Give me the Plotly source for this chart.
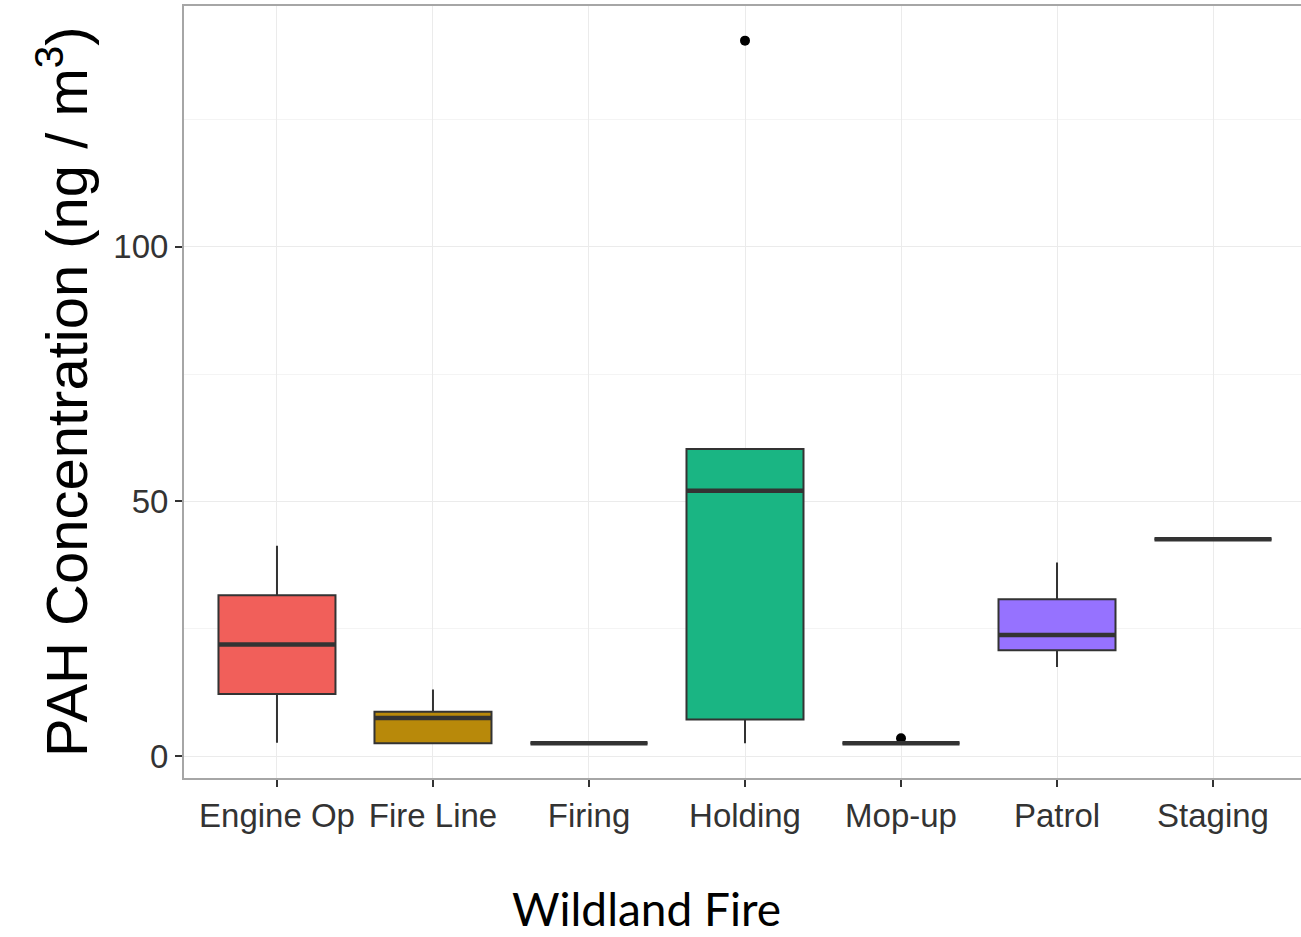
import plotly.graph_objects as go

# PAH concentrations by wildland-fire task (box summary statistics, ng/m^3)
categories = ["Engine Op", "Fire Line", "Firing", "Holding", "Mop-up", "Patrol", "Staging"]
lower_whisker = [2.6, 2.5, 2.5, 2.5, 2.5, 17.5, 42.6]
q1 = [12.2, 2.5, 2.5, 7.2, 2.5, 20.8, 42.6]
median = [21.9, 7.5, 2.5, 52.1, 2.5, 23.8, 42.6]
q3 = [31.6, 8.7, 2.5, 60.3, 2.5, 30.8, 42.6]
upper_whisker = [41.3, 13.1, 2.5, 60.3, 2.5, 38.0, 42.6]
outlier_cat = ["Holding", "Mop-up"]
outlier_val = [140.5, 3.5]

fills = ["#F15F5A", "#B8890A", "#53B400", "#1AB583", "#00B6EB", "#9672FF", "#FB61D7"]

BOX_W = 0.75
LINE = "#333333"
TICK_FONT = dict(family="Liberation Sans, Arial", size=33, color="#333333")

fig = go.Figure()

for i, cat in enumerate(categories):
    fig.add_trace(go.Box(
        x=[cat],
        q1=[q1[i]], median=[median[i]], q3=[q3[i]],
        lowerfence=[lower_whisker[i]], upperfence=[upper_whisker[i]],
        width=BOX_W,
        whiskerwidth=0,
        fillcolor=fills[i],
        line=dict(color=LINE, width=2),
        boxpoints=False,
        showlegend=False,
        hoverinfo="skip",
    ))

# bold median bars, as in ggplot's fattened median line
for i, cat in enumerate(categories):
    fig.add_shape(type="line", xref="x", yref="y",
                  x0=i - BOX_W / 2, x1=i + BOX_W / 2, y0=median[i], y1=median[i],
                  line=dict(color=LINE, width=4.5), layer="above")

fig.add_trace(go.Scatter(
    x=outlier_cat, y=outlier_val, mode="markers",
    marker=dict(color="black", size=10),
    showlegend=False, hoverinfo="skip",
))

fig.update_layout(
    width=1301, height=937,
    margin=dict(l=184, r=0, t=6, b=159, autoexpand=False),
    paper_bgcolor="white", plot_bgcolor="white",
    xaxis=dict(
        type="category", categoryorder="array", categoryarray=categories,
        range=[-0.596, 6.564], automargin=False,
        showgrid=True, gridcolor="#EBEBEB", gridwidth=1.2,
        showline=True, linecolor="#A6A6A6", linewidth=2, mirror=True,
        ticks="outside", ticklen=7, tickwidth=1.5, tickcolor="#333333",
        tickangle=0, tickfont=TICK_FONT, zeroline=False,
    ),
    yaxis=dict(
        range=[-4.3, 147.3], automargin=False,
        tickvals=[0, 50, 100],
        showgrid=True, gridcolor="#EBEBEB", gridwidth=1.2,
        minor=dict(tickvals=[25, 75, 125], showgrid=True, gridcolor="#F4F4F4", gridwidth=0.8, ticks=""),
        showline=True, linecolor="#A6A6A6", linewidth=2, mirror=False,
        ticks="outside", ticklen=7, tickwidth=1.5, tickcolor="#333333",
        tickfont=TICK_FONT, zeroline=False,
    ),
    annotations=[
        dict(text="PAH Concentration (ng / m<sup>3</sup>)", xref="paper", yref="paper",
             x=(62 - 184) / 1117, y=0.5, xanchor="center", yanchor="middle",
             textangle=-90, showarrow=False,
             font=dict(family="Liberation Sans, Arial", size=58, color="black")),
        dict(text="Wildland Fire", xref="paper", yref="paper",
             x=(646 - 184) / 1117, y=-(908 - 778) / 772, xanchor="center", yanchor="middle",
             showarrow=False,
             font=dict(family="Lato, Liberation Sans", size=46, color="black")),
    ],
)

fig.write_html("out.html")
